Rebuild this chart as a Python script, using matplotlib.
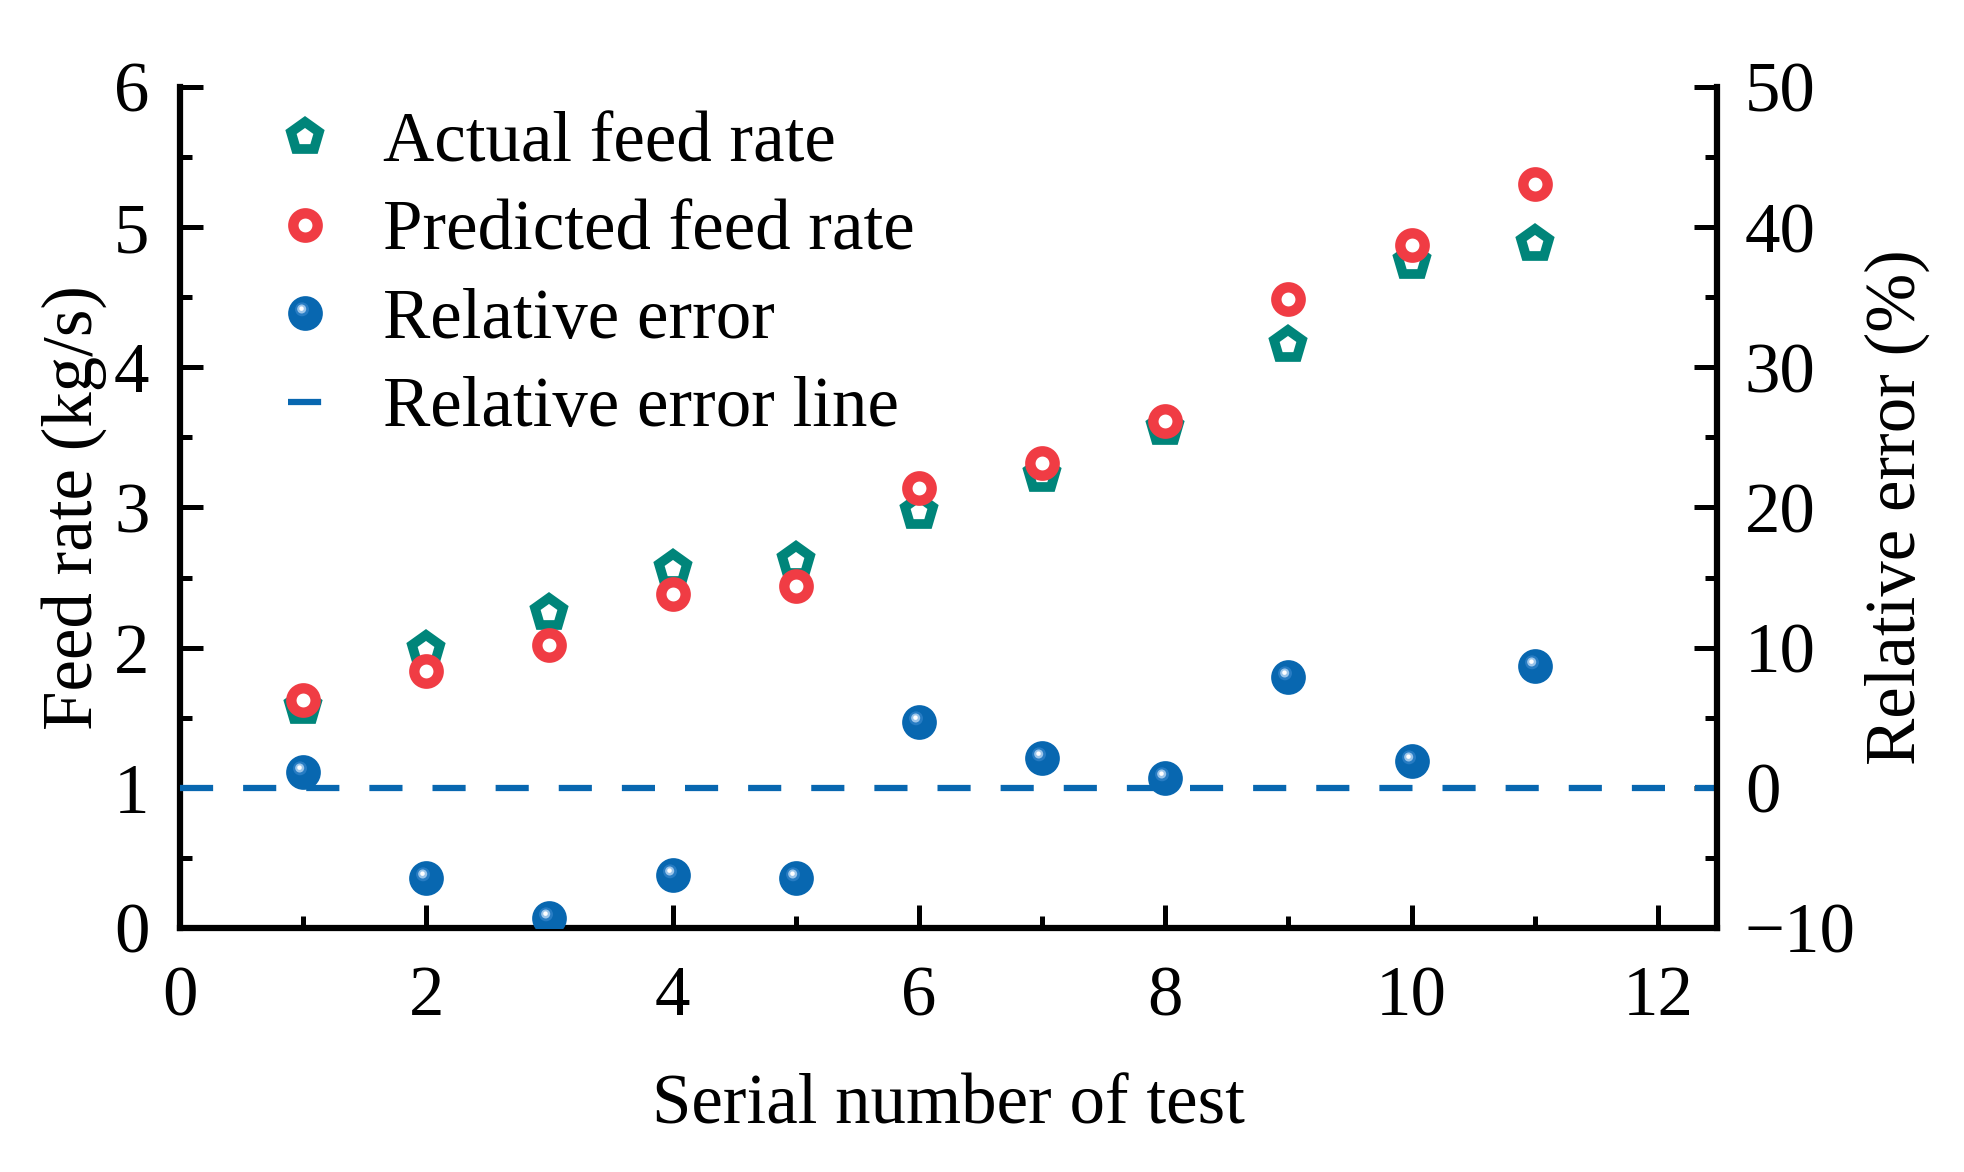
import matplotlib
matplotlib.use('Agg')
import matplotlib.pyplot as plt
from matplotlib.path import Path
from matplotlib.markers import MarkerStyle
from matplotlib.ticker import MultipleLocator
from matplotlib.legend_handler import HandlerTuple

# ---------------- data ----------------
test_no = [1, 2, 3, 4, 5, 6, 7, 8, 9, 10, 11]
actual_feed = [1.58, 1.98, 2.25, 2.56, 2.62, 2.97, 3.23, 3.57, 4.16, 4.75, 4.88]
predicted_feed = [1.63, 1.83, 2.02, 2.38, 2.44, 3.14, 3.32, 3.62, 4.49, 4.87, 5.31]
relative_error = [1.1, -6.4, -9.3, -6.2, -6.4, 4.7, 2.1, 0.7, 7.9, 1.9, 8.7]
error_line_x = [0, 12.48]
error_line_y = [0, 0]

x_ticks = [0, 2, 4, 6, 8, 10, 12]
left_ticks = [0, 1, 2, 3, 4, 5, 6]
right_ticks = [-10, 0, 10, 20, 30, 40, 50]

labels = ["Actual feed rate", "Predicted feed rate", "Relative error", "Relative error line"]

# ---------------- style ----------------
plt.rcParams['font.family'] = ['Liberation Serif', 'DejaVu Serif']
plt.rcParams['axes.unicode_minus'] = True
FS = 51
TEAL = '#00857a'
RED = '#f03c44'
BLUE = '#0867b0'

fig = plt.figure(figsize=(19.65, 11.72), dpi=100)
ax = fig.add_axes([0.0916, 0.2082, 0.8738 - 0.0916, 0.9258 - 0.2082])
ax2 = ax.twinx()


def offset_circle_marker(cx, cy, r):
    circ = Path.circle(center=(cx, cy), radius=r)
    anchors = Path([[-1, -1], [1, 1]], [Path.MOVETO, Path.MOVETO])
    return MarkerStyle(Path.make_compound_path(anchors, circ))


hl_soft = offset_circle_marker(-0.20, 0.24, 0.40)
hl_mid = offset_circle_marker(-0.22, 0.26, 0.26)
hl_top = offset_circle_marker(-0.23, 0.28, 0.13)

# feed rates (left axis)
h_act, = ax.plot(test_no, actual_feed, linestyle='none', marker='p', ms=21,
                 mew=7.0, mec=TEAL, mfc='white', zorder=3)
h_pred, = ax.plot(test_no, predicted_feed, linestyle='none', marker='o', ms=17.5,
                  mew=7.5, mec=RED, mfc='white', zorder=4)

# relative error (right axis)
h_line, = ax2.plot(error_line_x, error_line_y, color=BLUE, lw=4.5,
                   linestyle=(0, (5.3, 4.8)), zorder=2)
h_err, = ax2.plot(test_no, relative_error, linestyle='none', marker='o', ms=25,
                  mew=0, mfc=BLUE, zorder=3)
h_err1, = ax2.plot(test_no, relative_error, linestyle='none', marker=hl_soft, ms=25,
                   mew=0, mfc='#3d8bd0', alpha=0.6, zorder=4)
h_err2, = ax2.plot(test_no, relative_error, linestyle='none', marker=hl_mid, ms=25,
                   mew=0, mfc='#a8cdee', alpha=0.9, zorder=5)
h_err3, = ax2.plot(test_no, relative_error, linestyle='none', marker=hl_top, ms=25,
                   mew=0, mfc='white', alpha=1.0, zorder=6)

# axes limits and ticks
ax.set_xlim(0, 12.48)
ax.set_ylim(0, 6)
ax2.set_ylim(-10, 50)
ax.set_xticks(x_ticks)
ax.set_yticks(left_ticks)
ax2.set_yticks(right_ticks)
ax.xaxis.set_minor_locator(MultipleLocator(1))
ax.yaxis.set_minor_locator(MultipleLocator(0.5))
ax2.yaxis.set_minor_locator(MultipleLocator(5))

for a in (ax, ax2):
    a.spines['top'].set_visible(False)
    for s in a.spines.values():
        s.set_linewidth(4.5)
ax.spines['right'].set_visible(False)
ax2.spines['left'].set_visible(False)
ax2.spines['bottom'].set_visible(False)

ax.tick_params(axis='both', which='major', direction='in', length=16.5, width=3.6,
               labelsize=FS, top=False, right=False)
ax.tick_params(axis='both', which='minor', direction='in', length=8.6, width=3.6,
               top=False, right=False)
ax.tick_params(axis='x', which='major', pad=27)
ax.tick_params(axis='y', which='major', pad=22)
ax2.tick_params(axis='y', which='major', direction='in', length=16.5, width=3.6,
                labelsize=FS, pad=20)
ax2.tick_params(axis='y', which='minor', direction='in', length=8.6, width=3.6)

ax.set_xlabel("Serial number of test", fontsize=FS, labelpad=31)
ax.set_ylabel("Feed rate (kg/s)", fontsize=FS, labelpad=5)
ax2.set_ylabel("Relative error (%)", fontsize=FS, labelpad=6)

leg = ax2.legend([h_act, h_pred, (h_err, h_err1, h_err2, h_err3), h_line], labels,
                 handler_map={tuple: HandlerTuple(ndivide=1)},
                 loc='upper left', bbox_to_anchor=(0.070, 0.971),
                 frameon=False, fontsize=FS, handlelength=0.5,
                 handletextpad=0.85, labelspacing=0.33, borderpad=0,
                 borderaxespad=0, numpoints=1)

fig.savefig('out.png', dpi=100)
